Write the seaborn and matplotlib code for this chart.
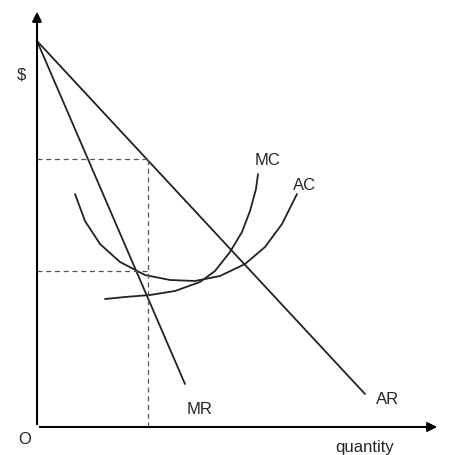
import matplotlib
matplotlib.use("Agg")
import matplotlib.pyplot as plt
import seaborn as sns

sns.set_theme(style="white")
plt.rcParams["font.family"] = ["Liberation Sans", "DejaVu Sans"]

# values (data units, origin at bottom-left)
ar_x = [0, 328]
ar_y = [386, 33]
mr_x = [0, 148]
mr_y = [386, 43]
ac_x = [38, 48, 63, 83, 108, 133, 158, 183, 208, 228, 245, 260]
ac_y = [233, 206, 183, 165, 152, 147, 146, 151, 163, 180, 203, 233]
mc_x = [68, 88, 113, 138, 163, 178, 193, 205, 213, 219, 221]
mc_y = [128, 130, 132, 136, 145, 156, 175, 195, 216, 238, 253]
q_star = 111
p_high = 268
p_low = 156

fig = plt.figure(figsize=(4.53, 4.56), dpi=100)
ax = fig.add_axes([37 / 453, 28 / 456, 403 / 453, 418 / 456])
ax.set_xlim(0, 403)
ax.set_ylim(0, 418)
ax.axis("off")

kw = dict(color="#222222", lw=1.3)
sns.lineplot(x=ar_x, y=ar_y, ax=ax, sort=False, **kw)
sns.lineplot(x=mr_x, y=mr_y, ax=ax, sort=False, **kw)
sns.lineplot(x=ac_x, y=ac_y, ax=ax, sort=False, **kw)
sns.lineplot(x=mc_x, y=mc_y, ax=ax, sort=False, **kw)

dash = dict(color="#555555", lw=0.9, ls=(0, (4, 3)))
ax.plot([0, q_star], [p_high, p_high], **dash)
ax.plot([0, q_star], [p_low, p_low], **dash)
ax.plot([q_star, q_star], [0, p_high], **dash)

arrow = dict(arrowstyle="-|>", color="black", lw=1.5, mutation_scale=14)
ax.annotate("", xy=(0, 418), xytext=(0, 0), arrowprops=arrow, annotation_clip=False)
ax.annotate("", xy=(403, 0), xytext=(0, 0), arrowprops=arrow, annotation_clip=False)

fs = 12
ax.text(-20, 353, "\\$", fontsize=fs, ha="left", va="center")
ax.text(-19, -12, "O", fontsize=fs, ha="left", va="center")
ax.text(328, -20, "quantity", fontsize=fs, ha="center", va="center")
ax.text(163, 18, "MR", fontsize=fs, ha="center", va="center")
ax.text(351, 28, "AR", fontsize=fs, ha="center", va="center")
ax.text(231, 268, "MC", fontsize=fs, ha="center", va="center")
ax.text(268, 243, "AC", fontsize=fs, ha="center", va="center")

fig.savefig("out.png", dpi=100)
